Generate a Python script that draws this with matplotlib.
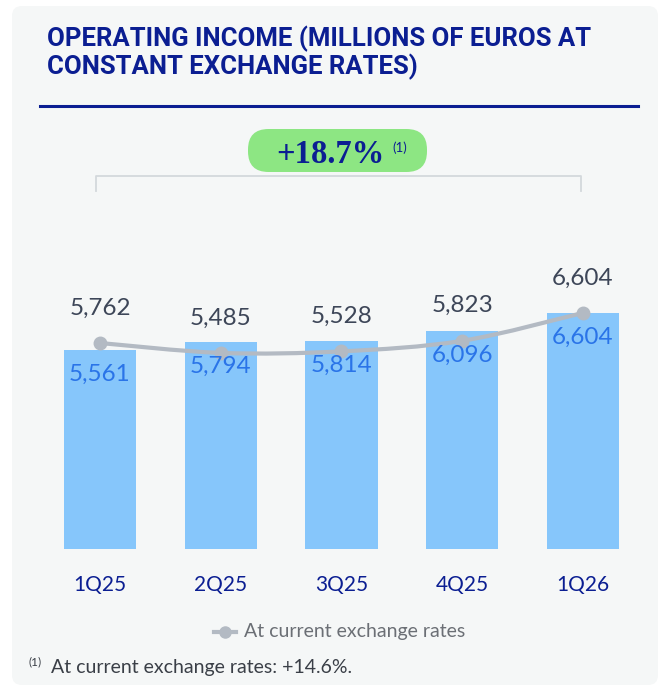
import numpy as np
import matplotlib
matplotlib.use("Agg")
import matplotlib.pyplot as plt
from matplotlib.patches import FancyBboxPatch, PathPatch
from matplotlib.path import Path
from matplotlib.lines import Line2D

# datos del gráfico
quarters = ["1Q25", "2Q25", "3Q25", "4Q25", "1Q26"]
constant_fx = [5561, 5794, 5814, 6096, 6604]
current_fx = [5762, 5485, 5528, 5823, 6604]
title = "OPERATING INCOME (MILLIONS OF EUROS AT\nCONSTANT EXCHANGE RATES)"
growth = "+18.7%"
footnote = "At current exchange rates: +14.6%."
legend_label = "At current exchange rates"

NAVY = "#0b1e92"
BAR = "#86c6fb"
BAR_TXT = "#2a74e8"
DARK = "#3d4658"
GREY_LINE = "#b3bac3"
CARD = "#f5f7f7"

plt.rcParams["font.family"] = ["Lato", "DejaVu Sans"]

W, H = 663, 687
fig = plt.figure(figsize=(W / 100, H / 100), dpi=100)
fig.patch.set_facecolor("white")


def px(x, y):
    # pixeles desde arriba-izquierda -> coordenadas de figura
    return x / W, 1 - y / H


# tarjeta de fondo
card = FancyBboxPatch(px(12, 685), (658 - 12) / W, (685 - 6) / H,
                      boxstyle="round,pad=0,rounding_size=0.015",
                      mutation_aspect=W / H,
                      transform=fig.transFigure, facecolor=CARD,
                      edgecolor="none", zorder=-5)
fig.patches.append(card)

# titulo y linea
fig.text(*px(47, 53), title, color=NAVY, fontsize=18.5, fontweight="bold",
         family=["Roboto", "DejaVu Sans"],
         va="center", ha="left", linespacing=1.08)
fig.add_artist(Line2D([40 / W, 638 / W], [1 - 106 / H] * 2,
                      color=NAVY, lw=2.2, transform=fig.transFigure))

# corchete gris
bx = [96 / W, 96 / W, 581 / W, 581 / W]
by = [1 - 191 / H, 1 - 176 / H, 1 - 176 / H, 1 - 191 / H]
fig.add_artist(Line2D(bx, by, color="#d3d8dc", lw=1.3,
                      transform=fig.transFigure))

# pastilla verde con el crecimiento
pill = FancyBboxPatch((248 / W, 1 - 172 / H), (427 - 248) / W, 43 / H,
                      boxstyle="round,pad=0,rounding_size=0.031",
                      mutation_aspect=W / H,
                      transform=fig.transFigure, facecolor="#8de683",
                      edgecolor="none", zorder=2)
fig.patches.append(pill)
fig.text(*px(330, 163), growth, color=NAVY, fontsize=23.5, fontweight="bold",
         family=["Liberation Serif", "DejaVu Serif"], ha="center",
         va="baseline", zorder=3)
fig.text(*px(400, 148), "(1)", color=NAVY, fontsize=9.5, ha="center",
         va="center", zorder=3)

# ejes de las barras: base en y=549, escala comun para barras y linea
scale = 27.97  # unidades por pixel
top_px = 190
ax = fig.add_axes([39.6 / W, 1 - 549 / H, 603.75 / W, (549 - top_px) / H])
ax.set_xlim(-0.5, 4.5)
ax.set_ylim(0, (549 - top_px) * scale)
ax.patch.set_alpha(0)
for s in ax.spines.values():
    s.set_visible(False)
ax.set_yticks([])

x = np.arange(len(quarters))
ax.bar(x, constant_fx, width=0.6, color=BAR, zorder=1)
ax.set_xticks(x)
ax.set_xticklabels(quarters, color=NAVY, fontsize=15)
ax.tick_params(axis="x", length=0, pad=19)

# linea suavizada (curva bezier que pasa por los puntos)
pts = ax.transData.transform(np.column_stack([x, current_fx]))
verts = [pts[0]]
codes = [Path.MOVETO]
for i in range(len(pts) - 1):
    p0 = pts[i - 1] if i > 0 else pts[i]
    p1, p2 = pts[i], pts[i + 1]
    p3 = pts[i + 2] if i + 2 < len(pts) else pts[i + 1]
    c1 = p1 + (p2 - p0) / 6
    c2 = p2 - (p3 - p1) / 6
    verts += [c1, c2, p2]
    codes += [Path.CURVE4] * 3
curve = Path(ax.transData.inverted().transform(np.array(verts)), codes)
ax.add_patch(PathPatch(curve, facecolor="none", edgecolor=GREY_LINE,
                       lw=3, zorder=3, capstyle="round"))
ax.plot(x, current_fx, "o", color=GREY_LINE, ms=9, zorder=4)

for xi, v in zip(x, current_fx):
    ax.annotate(f"{v:,}", (xi, v), xytext=(0, 35), textcoords="offset pixels",
                ha="center", va="center", color=DARK, fontsize=17.5)
for xi, v in zip(x, constant_fx):
    ax.annotate(f"{v:,}", (xi, v), xytext=(0, -24), textcoords="offset pixels",
                ha="center", va="center", color=BAR_TXT, fontsize=17.5,
                zorder=5)

# leyenda
leg_y = 1 - 632 / H
fig.add_artist(Line2D([214 / W, 236 / W], [leg_y] * 2, color=GREY_LINE,
                      lw=3, transform=fig.transFigure))
fig.add_artist(Line2D([225 / W], [leg_y], color=GREY_LINE, marker="o",
                      ms=8, transform=fig.transFigure))
fig.text(244 / W, leg_y, legend_label, color="#6b6f75", fontsize=14,
         va="center", ha="left")

# nota al pie
fig.text(*px(29, 662), "(1)", color="#3a3f47", fontsize=8.5,
         va="center", ha="left")
fig.text(*px(51, 668), footnote, color="#3a3f47", fontsize=14,
         va="center", ha="left")

fig.savefig("out.png", dpi=100, facecolor="white")
